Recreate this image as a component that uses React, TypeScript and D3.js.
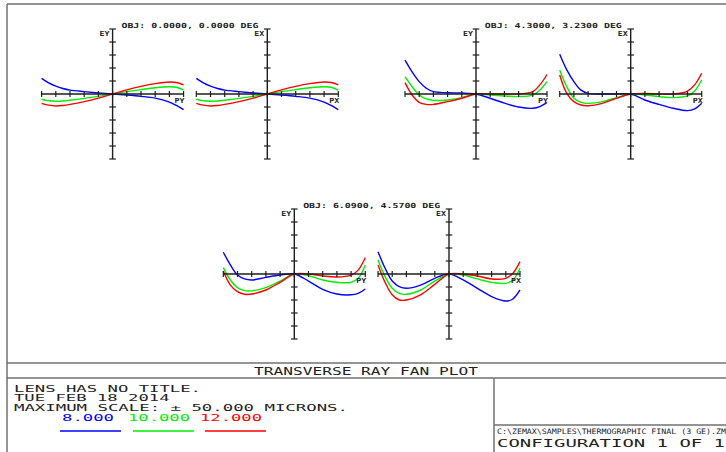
import React from "react";
import * as d3 from "d3";

// ---------- data ----------
const PUPIL = [-1, -0.9, -0.8, -0.7, -0.6, -0.4, -0.2, 0, 0.2, 0.4, 0.6, 0.8, 0.9, 1];

const FIELD_LABELS = [
  "OBJ: 0.0000, 0.0000 DEG",
  "OBJ: 4.3000, 3.2300 DEG",
  "OBJ: 6.0900, 4.5700 DEG",
];
const WAVELENGTHS = ["8.000", "10.000", "12.000"];
const MAX_SCALE = 50; // microns

// field 1 (on axis)
const F1_EY_8 = [12, 8.5, 6, 4.2, 3, 1.8, 0.8, 0, -0.8, -1.8, -3.2, -6.2, -8.8, -12];
const F1_EY_10 = [-4, -5.2, -5.6, -5.4, -4.8, -3.4, -1.8, 0, 1.8, 3.4, 4.8, 5.6, 5.2, 3];
const F1_EY_12 = [-7.2, -8.6, -9.2, -8.8, -8, -5.9, -3.2, 0, 3.2, 5.9, 8, 9.2, 8.8, 7];
const F1_EX_8 = [12, 8.5, 6, 4.2, 3, 1.8, 0.8, 0, -0.8, -1.8, -3.2, -6.2, -8.8, -12];
const F1_EX_10 = [-4, -5.2, -5.6, -5.4, -4.8, -3.4, -1.8, 0, 1.8, 3.4, 4.8, 5.6, 5.2, 3];
const F1_EX_12 = [-7.2, -8.6, -9.2, -8.8, -8, -5.9, -3.2, 0, 3.2, 5.9, 8, 9.2, 8.8, 7];

// field 2
const F2_EY_8 = [26, 17, 9.5, 4.4, 1.8, 1, 0.8, 0, -3.3, -7, -10, -11, -9.7, -6.4];
const F2_EY_10 = [13.3, 5.6, -0.8, -3.8, -4.9, -4.6, -2.8, 0, -0.8, -1.5, -2, -0.8, 3, 9.5];
const F2_EY_12 = [8.7, -0.8, -6.4, -8, -8, -5.9, -3.3, 0, 0, 0, 0, 1.8, 7, 15];
const F2_EX_8 = [30.5, 18.5, 9.5, 3, 0.5, 0, 0, 0, -4.6, -8, -11, -12.8, -11.5, -7.2];
const F2_EX_10 = [18.5, 5.6, -3.3, -6.4, -7.2, -5.9, -2.8, 0, -0.8, -2, -2.8, -1.5, 2.3, 10.8];
const F2_EX_12 = [14.6, 0.5, -5.9, -8.5, -9, -7.2, -3.3, 0, 0.5, 0, 0, 2.3, 7, 16];

// field 3
const F3_EY_8 = [16.7, 7, -0.8, -3.8, -4.6, -2.6, -0.8, 0, -5.4, -11.8, -15.4, -16, -14.9, -11.5];
const F3_EY_10 = [4.9, -4.6, -10.5, -12.8, -13, -10.5, -5.4, 0, -1.3, -4.6, -6.4, -6.4, -3.3, 7];
const F3_EY_12 = [2.3, -8.5, -13.6, -15.6, -15.4, -12.3, -6.4, 0, 0, -1.5, -2.3, -0.8, 3, 12.6];
const F3_EX_8 = [17.2, 4.4, -5.4, -9.7, -11, -8.5, -3.3, 0, -4.6, -11, -17.4, -20.8, -19.2, -12.3];
const F3_EX_10 = [10.8, -2, -11, -14.9, -15.6, -12.3, -5.4, 0, -0.8, -3.8, -6.4, -7.2, -4.6, 4.4];
const F3_EX_12 = [7, -6.4, -16, -20, -20, -16, -8, 0, 0, -1.5, -3.8, -3.3, 0.5, 9.5];

const INFO_LINES = ["LENS HAS NO TITLE.", "TUE FEB 18 2014", "MAXIMUM SCALE: \u00B1 50.000 MICRONS."];

// ---------- layout / style ----------
const W = 726;
const H = 452;
const COLORS = ["#0000ff", "#00ee00", "#ff0000"];
const AXIS = "#1e1e1e";
const FRAME = "#707070";
const MONO = "'DejaVu Sans Mono', 'Liberation Mono', monospace";
const HALF_W = 71;
const HALF_H = 65;
const PAIR_DX = 154.7;
const PAIRS = [
  { cx: 112.6, cy: 94, ey: [F1_EY_8, F1_EY_10, F1_EY_12], ex: [F1_EX_8, F1_EX_10, F1_EX_12] },
  { cx: 476, cy: 94, ey: [F2_EY_8, F2_EY_10, F2_EY_12], ex: [F2_EX_8, F2_EX_10, F2_EX_12] },
  { cx: 294.3, cy: 274, ey: [F3_EY_8, F3_EY_10, F3_EY_12], ex: [F3_EX_8, F3_EX_10, F3_EX_12] },
];

function Fan({ cx, cy, series, yLabel, xLabel }: { cx: number; cy: number; series: number[][]; yLabel: string; xLabel: string }) {
  const x = d3.scaleLinear().domain([-1, 1]).range([cx - HALF_W, cx + HALF_W]);
  const y = d3.scaleLinear().domain([-MAX_SCALE, MAX_SCALE]).range([cy + HALF_H, cy - HALF_H]);
  const line = d3
    .line<number>()
    .x((_, i) => x(PUPIL[i]))
    .y((d) => y(d))
    .curve(d3.curveCatmullRom.alpha(0.5));
  const xt = x.ticks(10);
  const yt = y.ticks(10);
  return (
    <g>
      {series.map((s, i) => (
        <path key={i} d={line(s) || ""} fill="none" stroke={COLORS[i]} strokeWidth={1.4} />
      ))}
      <line x1={x(-1)} x2={x(1)} y1={y(0)} y2={y(0)} stroke={AXIS} strokeWidth={1.4} />
      <line x1={x(0)} x2={x(0)} y1={y(-MAX_SCALE)} y2={y(MAX_SCALE)} stroke={AXIS} strokeWidth={1.4} />
      {xt.map((t, i) => (
        <line key={"x" + i} x1={x(t)} x2={x(t)} y1={y(0) - 3} y2={y(0) + 3} stroke={AXIS} strokeWidth={1.2} />
      ))}
      {yt.map((t, i) => (
        <line key={"y" + i} x1={x(0) - 3.3} x2={x(0) + 3.3} y1={y(t)} y2={y(t)} stroke={AXIS} strokeWidth={1.2} />
      ))}
      <text x={x(0) - 3} y={y(MAX_SCALE) + 6.5} textAnchor="end" fontFamily={MONO} fontWeight="bold" fontSize={7} textLength={10} lengthAdjust="spacingAndGlyphs" fill="#222">
        {yLabel}
      </text>
      <text x={x(1) + 1} y={y(0) + 9} textAnchor="end" fontFamily={MONO} fontWeight="bold" fontSize={7} textLength={10} lengthAdjust="spacingAndGlyphs" fill="#222">
        {xLabel}
      </text>
    </g>
  );
}

export default function App() {
  const legendX = [62, 128, 200];
  const legendW = [52, 62, 62];
  const underX = [60, 133, 205];
  return (
    <svg width={W} height={H} style={{ position: "absolute", left: 0, top: 0, background: "#fff" }}>
      {/* frame */}
      <g stroke={FRAME} strokeWidth={1.5} fill="none">
        <line x1={7} x2={W} y1={4} y2={4} />
        <line x1={7} x2={7} y1={4} y2={H} />
        <line x1={7} x2={W} y1={363} y2={363} />
        <line x1={7} x2={W} y1={378} y2={378} />
        <line x1={494} x2={494} y1={378} y2={H} />
        <line x1={494} x2={W} y1={425} y2={425} />
      </g>

      {PAIRS.map((p, k) => (
        <g key={k}>
          <text x={p.cx + PAIR_DX / 2} y={27.5 + (p.cy - 94)} textAnchor="middle" fontFamily={MONO} fontWeight="bold" fontSize={7} textLength={137} lengthAdjust="spacingAndGlyphs" fill="#222">
            {FIELD_LABELS[k]}
          </text>
          <Fan cx={p.cx} cy={p.cy} series={p.ey} yLabel="EY" xLabel="PY" />
          <Fan cx={p.cx + PAIR_DX} cy={p.cy} series={p.ex} yLabel="EX" xLabel="PX" />
        </g>
      ))}

      {/* title row */}
      <text x={366} y={375} textAnchor="middle" fontFamily={MONO} fontSize={11} textLength={224} lengthAdjust="spacingAndGlyphs" fill="#222">
        TRANSVERSE RAY FAN PLOT
      </text>

      {/* info */}
      {INFO_LINES.map((t, i) => (
        <text key={i} x={14} y={391.5 + i * 9.5} fontFamily={MONO} fontSize={8.1} textLength={t.length * 10.5 - 2} lengthAdjust="spacingAndGlyphs" fill="#222">
          {t}
        </text>
      ))}
      {WAVELENGTHS.map((w, i) => (
        <g key={w}>
          <text x={legendX[i]} y={420.5} fontFamily={MONO} fontSize={8.1} textLength={legendW[i]} lengthAdjust="spacingAndGlyphs" fill={COLORS[i]}>
            {w}
          </text>
          <line x1={underX[i]} x2={underX[i] + 61} y1={431} y2={431} stroke={COLORS[i]} strokeWidth={1.5} />
        </g>
      ))}

      {/* right box */}
      <text x={497} y={434} fontFamily={MONO} fontSize={7.5} textLength={234} lengthAdjust="spacingAndGlyphs" fill="#222">
        {"C:\\ZEMAX\\SAMPLES\\THERMOGRAPHIC FINAL (3 GE).ZMX"}
      </text>
      <text x={497} y={446.5} fontFamily={MONO} fontSize={10.5} textLength={228} lengthAdjust="spacingAndGlyphs" fill="#222">
        CONFIGURATION 1 OF 1
      </text>
    </svg>
  );
}
